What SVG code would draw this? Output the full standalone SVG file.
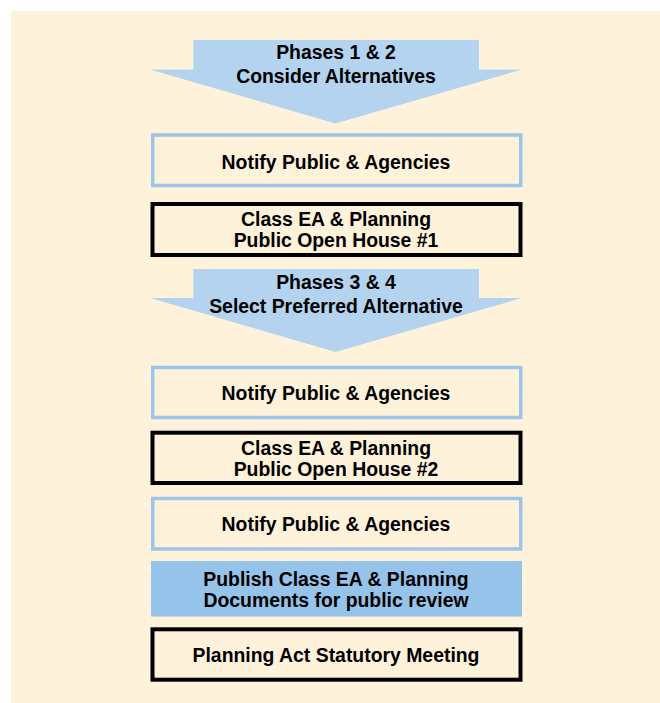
<svg xmlns="http://www.w3.org/2000/svg" width="660" height="703" viewBox="0 0 660 703">
  <style>
    .bg { fill: #fff2da; }
    .phase { fill: #b3d3ef; stroke: none; }
    .notify { fill: #fff2da; stroke: #9dc5ea; stroke-width: 3.5; }
    .event { fill: #fff2da; stroke: #000000; stroke-width: 4; }
    .publish { fill: #95c3e9; stroke: none; }
    text { font-family: "Liberation Sans", Arial, sans-serif; font-weight: bold; font-size: 19.4px; fill: #000000; text-anchor: middle; }
  </style>

  <rect class="bg" x="11" y="11" width="649" height="692"/>

  <!-- phase arrows double as the flow direction; no separate connectors -->
  <g id="connectors"></g>

  <g id="phase-1-2">
    <polygon class="phase" points="193.3,40 479,40 479,69.5 521.7,69.5 335.5,123.5 150,69.5 193.3,69.5"/>
    <text x="336" y="59">Phases 1 &amp; 2</text>
    <text x="336" y="83">Consider Alternatives</text>
  </g>

  <g id="notify-1">
    <rect class="notify" x="152.75" y="135" width="368" height="50.5"/>
    <text x="336" y="169">Notify Public &amp; Agencies</text>
  </g>

  <g id="open-house-1">
    <rect class="event" x="152.5" y="204" width="368" height="51"/>
    <text x="336" y="226">Class EA &amp; Planning</text>
    <text x="336" y="247">Public Open House #1</text>
  </g>

  <g id="phase-3-4">
    <polygon class="phase" points="193.3,269 479,269 479,298 521.7,298 335.5,352 150,298 193.3,298"/>
    <text x="336" y="289.3">Phases 3 &amp; 4</text>
    <text x="336" y="313.3">Select Preferred Alternative</text>
  </g>

  <g id="notify-2">
    <rect class="notify" x="152.75" y="367.5" width="368" height="50"/>
    <text x="336" y="400">Notify Public &amp; Agencies</text>
  </g>

  <g id="open-house-2">
    <rect class="event" x="152.5" y="432.7" width="368" height="50.3"/>
    <text x="336" y="455">Class EA &amp; Planning</text>
    <text x="336" y="475.7">Public Open House #2</text>
  </g>

  <g id="notify-3">
    <rect class="notify" x="152.75" y="498.5" width="368" height="50.5"/>
    <text x="336" y="530.7">Notify Public &amp; Agencies</text>
  </g>

  <g id="publish-documents">
    <rect class="publish" x="151" y="561" width="371" height="55.5"/>
    <text x="336" y="585.7">Publish Class EA &amp; Planning</text>
    <text x="336" y="606.7">Documents for public review</text>
  </g>

  <g id="statutory-meeting">
    <rect class="event" x="152.5" y="629.3" width="368" height="50.4"/>
    <text x="336" y="661.7">Planning Act Statutory Meeting</text>
  </g>
</svg>
